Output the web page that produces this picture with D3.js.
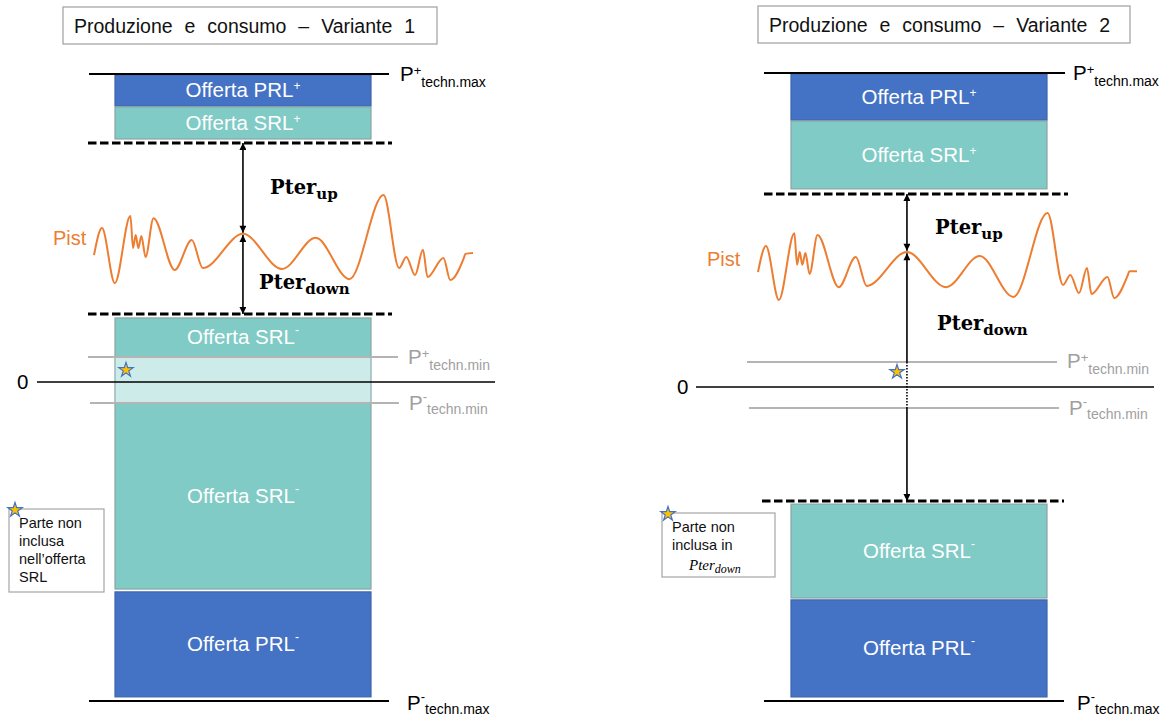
<!DOCTYPE html>
<html><head><meta charset="utf-8">
<script src="https://cdn.jsdelivr.net/npm/d3@7"></script>
<style>
body{margin:0;background:#fff}
svg{display:block;font-family:"Liberation Sans",Arial,sans-serif}
</style>
</head><body>
<svg id="c" width="1165" height="720"></svg>
<script>
// ---------------- DATA (power units: techn.max = ±100) ----------------
const panelTitles = ["Produzione e consumo – Variante 1", "Produzione e consumo – Variante 2"];
const technMaxPos = [100, 100];
const technMinPos = [8.1, 8.0];
const technMinNeg = [-6.6, -6.7];
const technMaxNeg = [-100, -100];
const prlPlus  = [[89.6, 99.7], [85.0, 99.7]];
const srlPlus  = [[78.9, 89.3], [63.1, 84.7]];
const srlMinus = [[-64.9, 20.8], [-67.2, -37.3]];
const prlMinus = [[-98.7, -65.8], [-98.7, -67.8]];
const pterUpLimit   = [77.6, 61.5];
const pterDownLimit = [22.1, -36.3];
const excludedBand  = [[-6.6, 8.1], null];
const pistT  = [0, 2.1, 5.5, 9.6, 10.3, 11.0, 11.7, 12.5, 13.6, 15.7, 21.3, 25.8, 28.7, 39.3, 49.6, 58.5, 67.4, 76.4, 80.5, 82.4, 84.7, 86.8, 88.0, 92.2, 94.0, 97.6, 98.0, 100];
const pistV1 = [41.2, 50.0, 32.1, 53.9, 43.5, 47.7, 43.5, 47.4, 40.6, 53.2, 36.4, 46.1, 37.0, 48.1, 36.7, 46.8, 33.4, 60.7, 37.0, 40.6, 34.7, 42.9, 34.1, 40.3, 33.1, 40.3, 41.6, 41.9];
const pistV2 = [36.6, 44.9, 27.7, 49.0, 38.9, 43.0, 38.9, 42.7, 36.0, 48.4, 31.8, 41.4, 32.2, 43.0, 31.8, 41.7, 28.7, 55.4, 32.5, 35.7, 29.9, 37.9, 29.6, 35.0, 28.3, 35.7, 36.9, 36.9];
const pistSeries = [pistV1, pistV2];
const arrowT = 39.3;
const starV = [3.9, 4.8];
const footnoteLines = [["Parte non", "inclusa", "nell’offerta", "SRL"], ["Parte non", "inclusa in"]];

// ---------------- LAYOUT ----------------
const layout = [
  { yRange: [701, 382, 74], pistX: [94, 473], barX: [115, 371],
    maxPosX: [89, 389], maxNegX: [89, 389], dashUpX: [88, 392], dashDownX: [88, 392],
    minPosX: [88, 398], minNegX: [90, 399], zeroX: [37, 495], zeroLabelX: 17,
    labelX: { maxPos: 400, minPos: 408, minNeg: 409, maxNeg: 407 },
    title: { x: 63, y: 7, w: 374, h: 37, tx: 74, ty: 33 },
    pistLabel: { x: 53, y: 245 }, pterUp: { x: 270, y: 194 }, pterDown: { x: 259, y: 289 },
    starX: 126, foot: { x: 9, y: 509, w: 95, h: 83, tx: 19, ty0: 528, dy: 18 } },
  { yRange: [701, 387, 73], pistX: [758, 1137], barX: [791, 1047],
    maxPosX: [764, 1065], maxNegX: [764, 1064], dashUpX: [764, 1068], dashDownX: [762, 1064],
    minPosX: [747, 1057], minNegX: [749, 1059], zeroX: [696, 1154], zeroLabelX: 677,
    labelX: { maxPos: 1073, minPos: 1067, minNeg: 1069, maxNeg: 1077 },
    title: { x: 758, y: 6, w: 372, h: 37, tx: 769, ty: 32 },
    pistLabel: { x: 707, y: 266 }, pterUp: { x: 935, y: 234 }, pterDown: { x: 937, y: 330 },
    starX: 897, foot: { x: 662, y: 513, w: 113, h: 64, tx: 672, ty0: 532, dy: 18 } }
];

const BLUE = "#4472C4", TEAL = "#80CBC6", LIGHT = "#CDEBE9", ORANGE = "#ED7D31", GREY = "#A6A6A6";

const svg = d3.select("#c");
const defs = svg.append("defs");
defs.append("marker").attr("id", "ah").attr("viewBox", "0 0 10 10")
  .attr("refX", 10).attr("refY", 5).attr("markerWidth", 8).attr("markerHeight", 7)
  .attr("markerUnits", "userSpaceOnUse").attr("orient", "auto-start-reverse")
  .append("path").attr("d", "M0,0 L10,5 L0,10 z").attr("fill", "#000");

function pLabel(g, x, y, sup, sub, color) {
  const t = g.append("text").attr("x", x).attr("y", y).attr("fill", color).style("font-size", "20.5px");
  t.append("tspan").text("P");
  const plus = sup === "+";
  t.append("tspan").attr("dy", plus ? -6 : -9).style("font-size", "13px").text(sup);
  t.append("tspan").attr("dy", plus ? 12 : 13).style("font-size", "14px").text(sub);
}
function barText(g, x, y, main, sup) {
  const t = g.append("text").attr("x", x).attr("y", y).attr("fill", "#fff")
    .attr("text-anchor", "middle").style("font-size", "20.5px");
  t.append("tspan").text(main);
  t.append("tspan").attr("dy", sup === "+" ? -7 : -10).style("font-size", "12px").text(sup);
}
function pter(g, x, y, sub) {
  const t = g.append("text").attr("x", x).attr("y", y)
    .style("font-family", "'DejaVu Serif',serif").style("font-weight", "bold").style("font-size", "19.5px");
  t.append("tspan").text("Pter");
  t.append("tspan").attr("dy", 5).style("font-size", "15px").text(sub);
}
function star(g, x, y) {
  g.append("path").attr("d", d3.symbol(d3.symbolStar, 64)())
    .attr("transform", `translate(${x},${y})`)
    .attr("fill", "#FFC000").attr("stroke", BLUE).attr("stroke-width", 1.2);
}

layout.forEach((L, i) => {
  const g = svg.append("g");
  const y = d3.scaleLinear().domain([technMaxNeg[i], 0, technMaxPos[i]]).range(L.yRange);
  const x = d3.scaleLinear().domain([0, 100]).range(L.pistX);
  const bx = L.barX;

  // title
  g.append("rect").attr("x", L.title.x).attr("y", L.title.y).attr("width", L.title.w).attr("height", L.title.h)
    .attr("fill", "#fff").attr("stroke", GREY).attr("stroke-width", 1.3);
  g.append("text").attr("x", L.title.tx).attr("y", L.title.ty).style("font-size", "19.5px")
    .style("word-spacing", "6.5px").attr("fill", "#111").text(panelTitles[i]);

  // bars
  const bars = [
    { r: prlPlus[i], fill: BLUE, stroke: "#3b64ae" },
    { r: srlPlus[i], fill: TEAL, stroke: "#8aa5a3" },
    { r: srlMinus[i], fill: TEAL, stroke: "#8aa5a3" },
    { r: prlMinus[i], fill: BLUE, stroke: "#3b64ae" }
  ];
  g.selectAll("rect.bar").data(bars).join("rect").attr("class", "bar")
    .attr("x", bx[0]).attr("width", bx[1] - bx[0])
    .attr("y", d => y(d.r[1])).attr("height", d => y(d.r[0]) - y(d.r[1]))
    .attr("fill", d => d.fill).attr("stroke", d => d.stroke).attr("stroke-width", 1.2);
  if (excludedBand[i]) {
    const b = excludedBand[i];
    g.append("rect").attr("x", bx[0] + 0.6).attr("width", bx[1] - bx[0] - 1.2)
      .attr("y", y(b[1])).attr("height", y(b[0]) - y(b[1])).attr("fill", LIGHT);
  }

  const cx = (bx[0] + bx[1]) / 2;
  barText(g, cx, (y(prlPlus[i][0]) + y(prlPlus[i][1])) / 2 + 7, "Offerta PRL", "+");
  barText(g, cx, (y(srlPlus[i][0]) + y(srlPlus[i][1])) / 2 + 7, "Offerta SRL", "+");
  if (excludedBand[i]) {
    barText(g, cx, (y(srlMinus[i][1]) + y(excludedBand[i][1])) / 2 + 7, "Offerta SRL", "-");
    barText(g, cx, (y(excludedBand[i][0]) + y(srlMinus[i][0])) / 2 + 7, "Offerta SRL", "-");
  } else {
    barText(g, cx, (y(srlMinus[i][0]) + y(srlMinus[i][1])) / 2 + 7, "Offerta SRL", "-");
  }
  barText(g, cx, (y(prlMinus[i][0]) + y(prlMinus[i][1])) / 2 + 7, "Offerta PRL", "-");

  // horizontal level lines
  const hline = (xr, v, color, w, dash) => g.append("line")
    .attr("x1", xr[0]).attr("x2", xr[1]).attr("y1", y(v)).attr("y2", y(v))
    .attr("stroke", color).attr("stroke-width", w).attr("stroke-dasharray", dash || null);
  hline(L.maxPosX, technMaxPos[i], "#000", 2);
  hline(L.maxNegX, technMaxNeg[i], "#000", 2);
  hline(L.minPosX, technMinPos[i], "#B4B4B4", 2);
  hline(L.minNegX, technMinNeg[i], "#B4B4B4", 2);
  hline(L.zeroX, 0, "#000", 1.6);
  hline(L.dashUpX, pterUpLimit[i], "#000", 3, "8.5,3.5");
  hline(L.dashDownX, pterDownLimit[i], "#000", 3, "8.5,3.5");

  pLabel(g, L.labelX.maxPos, y(technMaxPos[i]) + 6.5, "+", "techn.max", "#000");
  pLabel(g, L.labelX.minPos, y(technMinPos[i]) + 6.5, "+", "techn.min", "#A0A0A0");
  pLabel(g, L.labelX.minNeg, y(technMinNeg[i]) + 6.5, "-", "techn.min", "#A0A0A0");
  pLabel(g, L.labelX.maxNeg, y(technMaxNeg[i]) + 9, "-", "techn.max", "#000");
  g.append("text").attr("x", L.zeroLabelX).attr("y", y(0) + 7).style("font-size", "20.5px").text("0");

  // Pist curve
  const pts = pistT.map((t, k) => [t, pistSeries[i][k]]);
  g.append("path").attr("d", d3.line().x(d => x(d[0])).y(d => y(d[1])).curve(d3.curveMonotoneX)(pts))
    .attr("fill", "none").attr("stroke", ORANGE).attr("stroke-width", 2);
  g.append("text").attr("x", L.pistLabel.x).attr("y", L.pistLabel.y).attr("fill", ORANGE)
    .style("font-size", "20px").text("Pist");

  // arrows
  const ax = x(arrowT);
  const pv = pistSeries[i][pistT.indexOf(arrowT)];
  const seg = (v1, v2, ms, me, dash) => g.append("line")
    .attr("x1", ax).attr("x2", ax).attr("y1", y(v1)).attr("y2", y(v2))
    .attr("stroke", "#000").attr("stroke-width", 1.6)
    .attr("stroke-dasharray", dash || null)
    .attr("marker-start", ms ? "url(#ah)" : null).attr("marker-end", me ? "url(#ah)" : null);
  const gapPx = 1.2;
  seg(pterUpLimit[i], y.invert(y(pv) - gapPx), true, true);
  if (pterDownLimit[i] < technMinNeg[i]) {
    seg(y.invert(y(pv) + gapPx), technMinPos[i], true, false);
    seg(technMinPos[i], technMinNeg[i], false, false, "1.5,1.5");
    seg(technMinNeg[i], pterDownLimit[i], false, true);
  } else {
    seg(y.invert(y(pv) + gapPx), pterDownLimit[i], true, true);
  }
  pter(g, L.pterUp.x, L.pterUp.y, "up");
  pter(g, L.pterDown.x, L.pterDown.y, "down");

  // star marker for excluded part
  star(g, L.starX, y(starV[i]));

  // footnote
  const F = L.foot;
  g.append("rect").attr("x", F.x).attr("y", F.y).attr("width", F.w).attr("height", F.h)
    .attr("fill", "#fff").attr("stroke", GREY).attr("stroke-width", 1.2);
  footnoteLines[i].forEach((s, k) => g.append("text").attr("x", F.tx).attr("y", F.ty0 + k * F.dy)
    .style("font-size", "14.5px").attr("fill", "#111").text(s));
  if (i === 1) {
    const t = g.append("text").attr("x", F.tx + 17).attr("y", F.ty0 + 2 * F.dy + 2)
      .style("font-family", "'Liberation Serif',serif").style("font-style", "italic").style("font-size", "15px");
    t.append("tspan").text("Pter");
    t.append("tspan").attr("dy", 3).style("font-size", "12px").text("down");
  }
  star(g, F.x + 6, F.y + 1);
});
</script>
</body></html>
